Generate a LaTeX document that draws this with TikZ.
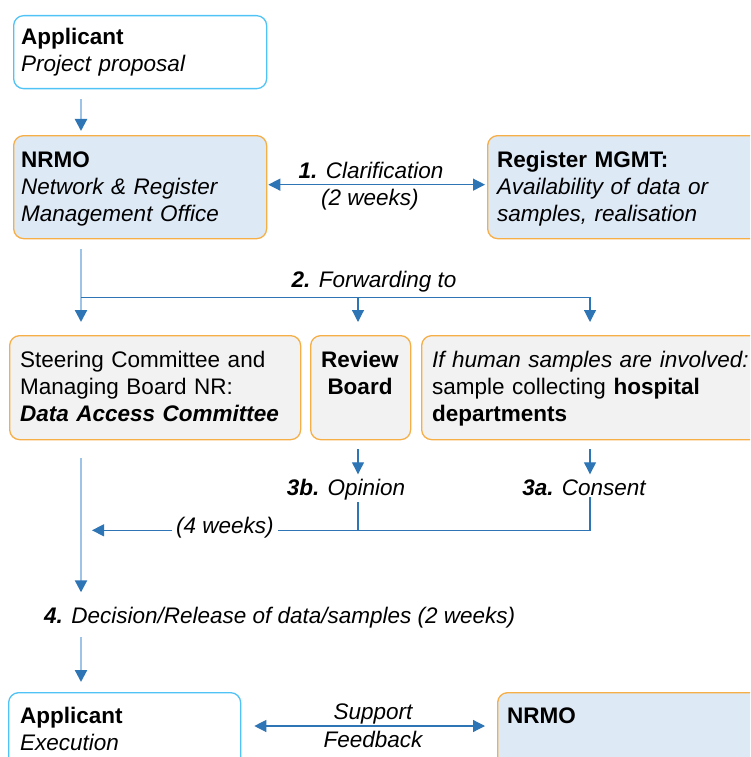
\documentclass[tikz,border=0pt]{standalone}
\usepackage{fontspec}
\setmainfont{Liberation Sans}
\usetikzlibrary{arrows.meta,calc}
\definecolor{boxcyan}{RGB}{79,195,245}
\definecolor{boxorange}{RGB}{246,174,70}
\definecolor{boxblue}{RGB}{222,233,246}
\definecolor{boxgray}{RGB}{242,242,242}
\definecolor{linelight}{RGB}{157,195,230}
\definecolor{linedark}{RGB}{46,117,182}
\tikzset{
  box/.style={draw, line width=1.3pt, rounded corners=10pt, anchor=north west, inner sep=0pt},
  appbox/.style={box, draw=boxcyan, fill=white},
  orgbox/.style={box, draw=boxorange, fill=boxblue},
  grpbox/.style={box, draw=boxorange, fill=boxgray},
  txt/.style={anchor=base west, inner sep=0pt, align=left, text width=#1},
  headed/.style={-{Triangle[length=12pt,width=12pt,color=linedark]}},
  flow/.style={draw=linelight, line width=2.2pt, headed},
  link/.style={draw=linedark, line width=1.2pt},
  twoway/.style={link, {Triangle[length=12pt,width=12pt]}-{Triangle[length=12pt,width=12pt]}},
  lbl/.style={anchor=base, inner sep=0pt, font=\itshape},
}
\begin{document}
\fontsize{22.5}{27}\selectfont
\begin{tikzpicture}[x=1pt,y=-1pt]
  \useasboundingbox (0,0) rectangle (750,757);
  \clip (0,0) rectangle (750,757);
  \coordinate (lcol) at (81,0);
  \coordinate (mcol) at (358,0);
  \coordinate (rcol) at (590,0);

  % boxes
  \node[appbox, minimum width=253pt, minimum height=73pt] (appA) at (13,15) {};
  \node[txt=240pt] (appAtxt) at (21,45) {\textbf{Applicant}\\\textit{Project proposal}};
  \node[orgbox, minimum width=253pt, minimum height=103pt] (nrmoA) at (13,135) {};
  \node[txt=240pt] (nrmoAtxt) at (21,167) {\textbf{NRMO}\\\textit{Network \& Register}\\\textit{Management Office}};
  \node[orgbox, minimum width=300pt, minimum height=103pt] (regm) at (487,135) {};
  \node[txt=280pt] (regmtxt) at (497,167) {\textbf{Register MGMT:}\\\textit{Availability of data or}\\\textit{samples, realisation}};

  \node[grpbox, minimum width=291pt, minimum height=104pt] (steer) at (9,335) {};
  \node[txt=290pt] (steertxt) at (20,367) {Steering Committee and\\Managing Board NR:\\\textbf{\textit{Data Access Committee}}};
  \node[grpbox, minimum width=100pt, minimum height=104pt] (review) at (310,335) {};
  \node[anchor=base, inner sep=0pt, align=center, text width=96pt] (reviewtxt) at (360,367) {\textbf{Review}\\\textbf{Board}};
  \node[grpbox, minimum width=360pt, minimum height=104pt] (human) at (421,335) {};
  \node[txt=340pt] (humantxt) at (432,367) {\textit{If human samples are involved:}\\sample collecting \textbf{hospital}\\\textbf{departments}};

  \node[appbox, minimum width=232pt, minimum height=100pt] (appB) at (8,692) {};
  \node[txt=220pt] (appBtxt) at (20,723) {\textbf{Applicant}\\\textit{Execution}};
  \node[orgbox, minimum width=300pt, minimum height=100pt] (nrmoB) at (497,692) {};
  \node[txt=240pt] (nrmoBtxt) at (507,723) {\textbf{NRMO}};

  % labels
  \node[lbl] (clar) at (371,178) {\textbf{1.} Clarification};
  \node[lbl] (clarwk) at (370,205) {(2 weeks)};
  \node[lbl] (fwdlbl) at (374,287) {\textbf{2.} Forwarding to};
  \node[lbl] (opin) at (346,495) {\textbf{3b.} Opinion};
  \node[lbl] (cons) at (584,495) {\textbf{3a.} Consent};
  \node[lbl, anchor=base west] (decis) at (44,623) {\textbf{4.} Decision/Release of data/samples (2 weeks)};
  \node[lbl] (supp) at (373,719) {Support};
  \node[lbl] (feed) at (373,747) {Feedback};

  % connectors
  \draw[flow] ($(appA.south -| lcol)+(0,10)$) -- ($(nrmoA.north -| lcol)+(0,-4)$);
  \draw[twoway] ($(nrmoA.east)+(1,-2.5)$) -- ($(regm.west)+(-2,-2.5)$);

  \draw[flow] ($(nrmoA.south -| lcol)+(0,10)$) -- ($(steer.north -| lcol)+(0,-13)$);
  \coordinate (fwd) at ($(nrmoA.south -| lcol)+(0,58)$);
  \draw[link,headed] (fwd) -| ($(human.north -| rcol)+(0,-13)$);
  \draw[link,headed] (fwd -| mcol) -- ($(review.north -| mcol)+(0,-13)$);

  \draw[link,headed] ($(review.south -| mcol)+(0,9)$) -- ($(review.south -| mcol)+(0,34)$);
  \draw[link,headed] ($(human.south -| rcol)+(0,9)$) -- ($(human.south -| rcol)+(0,34)$);
  \draw[link,headed] ($(cons.south -| rcol)+(0,2)$) |- ($(steer.south -| lcol)+(11,90)$);
  \draw[link] ($(opin.south -| mcol)+(0,2)$) -- ($(steer.south -| mcol)+(0,90)$);
  \node[lbl, fill=white, inner xsep=4pt, inner ysep=2pt] (wk4) at (225,533) {(4 weeks)};

  \draw[flow] ($(steer.south -| lcol)+(0,18)$) -- ($(steer.south -| lcol)+(0,152)$);
  \draw[flow] ($(decis.south -| lcol)+(0,9)$) -- ($(appB.north -| lcol)+(0,-10)$);
  \draw[twoway] ($(appB.north east)+(13,34)$) -- ($(nrmoB.north west)+(-12,34)$);
\end{tikzpicture}
\end{document}
